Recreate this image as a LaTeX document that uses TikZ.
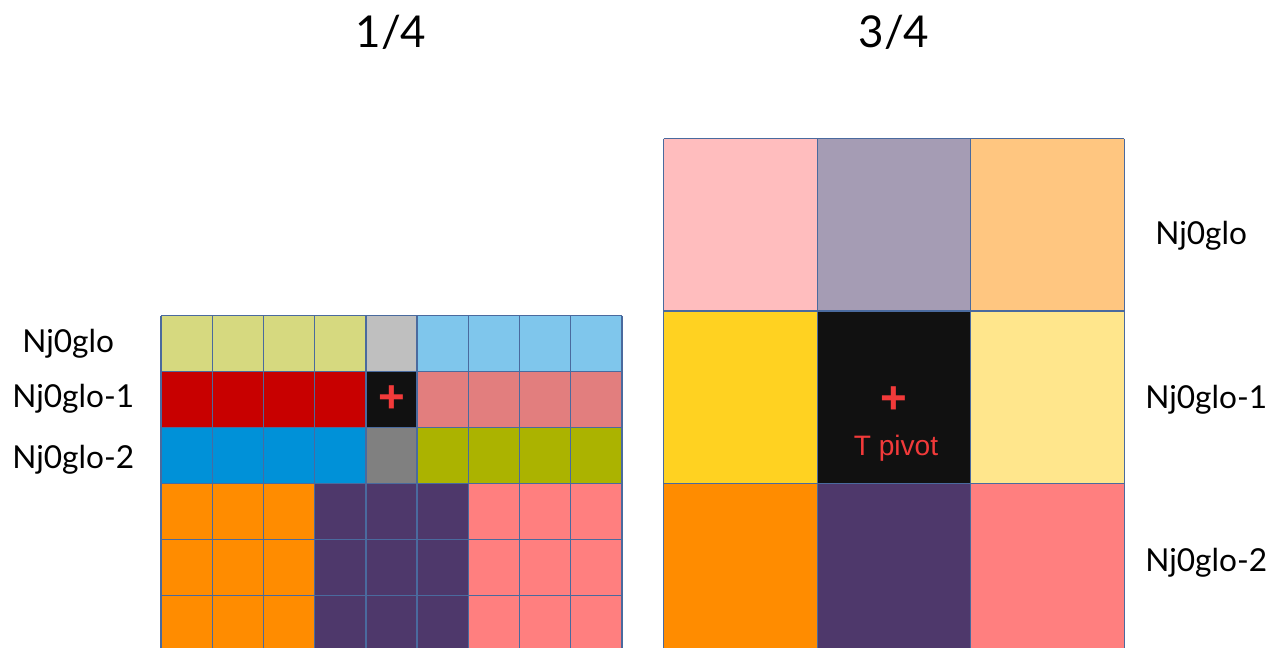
\documentclass[tikz,border=0pt]{standalone}
\usepackage{fontspec}
\setmainfont{Lato}
\newfontfamily\arialf{Liberation Sans}
\definecolor{gridblue}{HTML}{4A6A9E}
\definecolor{cLYG}{HTML}{D6D97F}
\definecolor{cLGR}{HTML}{BFBFBF}
\definecolor{cSKY}{HTML}{7FC6EC}
\definecolor{cRED}{HTML}{C80000}
\definecolor{cBLK}{HTML}{111111}
\definecolor{cROS}{HTML}{E27E7E}
\definecolor{cBLU}{HTML}{0091D8}
\definecolor{cGRY}{HTML}{808080}
\definecolor{cOLV}{HTML}{ABB300}
\definecolor{cORG}{HTML}{FF8C00}
\definecolor{cPUR}{HTML}{4E386B}
\definecolor{cSAL}{HTML}{FF7F7F}
\definecolor{cPNK}{HTML}{FFBDBE}
\definecolor{cLAV}{HTML}{A59CB4}
\definecolor{cPCH}{HTML}{FFC680}
\definecolor{cYEL}{HTML}{FFD221}
\definecolor{cLYE}{HTML}{FFE68C}
\definecolor{pivred}{HTML}{F23A3A}
\begin{document}
\begin{tikzpicture}[x=0.02cm,y=-0.02cm,
  gridline/.style={draw=gridblue, line width=0.8pt},
  lbl/.style={font=\fontsize{18}{20}\selectfont, inner sep=0pt, anchor=base west},
  ttl/.style={font=\fontsize{25}{28}\selectfont, inner sep=0pt, anchor=base},
  plusmark/.style={font=\arialf\bfseries\fontsize{26}{28}\selectfont, text=pivred, inner sep=0pt},
  pivlbl/.style={font=\arialf\fontsize{16}{18}\selectfont, text=pivred, inner sep=0pt, anchor=base}]
\useasboundingbox (0,0) rectangle (1283,648);
\clip (0,0) rectangle (1283,648);
% ---------- left grid fills ----------
% row 1
\fill[cLYG] (161,315.7) rectangle (365.8,371.6);
\fill[cLGR] (365.8,315.7) rectangle (417,371.6);
\fill[cSKY] (417,315.7) rectangle (621.8,371.6);
% row 2
\fill[cRED] (161,371.6) rectangle (365.8,427.5);
\fill[cBLK] (365.8,371.6) rectangle (417,427.5);
\fill[cROS] (417,371.6) rectangle (621.8,427.5);
% row 3
\fill[cBLU] (161,427.5) rectangle (365.8,483.4);
\fill[cGRY] (365.8,427.5) rectangle (417,483.4);
\fill[cOLV] (417,427.5) rectangle (621.8,483.4);
% rows 4-6
\fill[cORG] (161,483.4) rectangle (314.6,651.1);
\fill[cPUR] (314.6,483.4) rectangle (468.2,651.1);
\fill[cSAL] (468.2,483.4) rectangle (621.8,651.1);
% left grid lines
\foreach \i in {0,...,9}
  \draw[gridline] ({161+\i*51.2},315.7) -- ({161+\i*51.2},651.1);
\foreach \j in {0,...,6}
  \draw[gridline] (161,{315.7+\j*55.9}) -- (621.8,{315.7+\j*55.9});
% ---------- right grid fills ----------
\fill[cPNK] (663.7,138.7) rectangle (817.2,311);
\fill[cLAV] (817.2,138.7) rectangle (970.7,311);
\fill[cPCH] (970.7,138.7) rectangle (1124.2,311);
\fill[cYEL] (663.7,311) rectangle (817.2,483.3);
\fill[cBLK] (817.2,311) rectangle (970.7,483.3);
\fill[cLYE] (970.7,311) rectangle (1124.2,483.3);
\fill[cORG] (663.7,483.3) rectangle (817.2,655.6);
\fill[cPUR] (817.2,483.3) rectangle (970.7,655.6);
\fill[cSAL] (970.7,483.3) rectangle (1124.2,655.6);
\foreach \i in {0,...,3}
  \draw[gridline] ({663.7+\i*153.5},138.7) -- ({663.7+\i*153.5},655.6);
\foreach \j in {0,...,3}
  \draw[gridline] (663.7,{138.7+\j*172.3}) -- (1124.2,{138.7+\j*172.3});
% ---------- texts ----------
\node[ttl] (t1) at (391,48) {1/4};
\node[ttl] (t2) at (894,48) {3/4};
\node[lbl] (l0) at (22,352) {Nj0glo};
\node[lbl] (l1) at (12,407) {Nj0glo-1};
\node[lbl] (l2) at (12,468) {Nj0glo-2};
\node[lbl] (r0) at (1155,245) {Nj0glo};
\node[lbl] (r1) at (1145,408) {Nj0glo-1};
\node[lbl] (r2) at (1145,571) {Nj0glo-2};
\node[plusmark] (p1) at (391.4,399.5) {+};
\node[plusmark] (p2) at (894,400) {+};
\node[pivlbl] (piv) at (896,455) {T pivot};
\end{tikzpicture}
\end{document}
